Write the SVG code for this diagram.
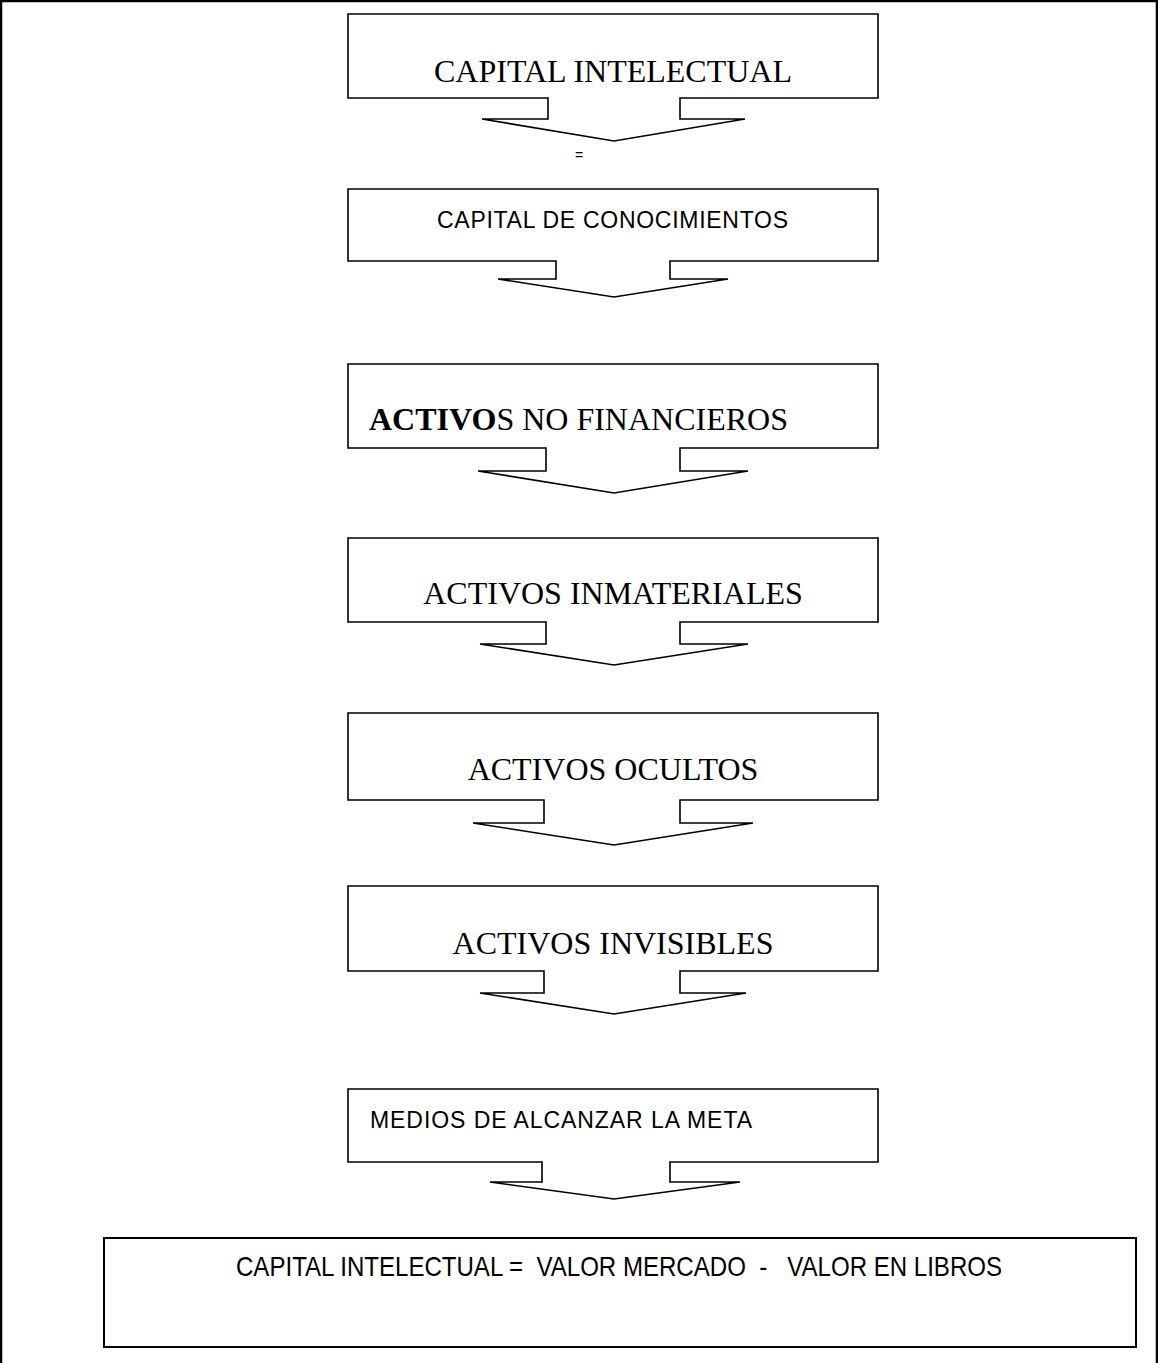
<svg xmlns="http://www.w3.org/2000/svg" width="1158" height="1363" viewBox="0 0 1158 1363">
  <style>
    .callout { fill: #ffffff; stroke: #000000; stroke-width: 1.6; stroke-linejoin: miter; }
    .box { fill: #ffffff; stroke: #000000; stroke-width: 2; }
    .serif { font-family: "Liberation Serif", "Times New Roman", serif; font-size: 32px; fill: #000000; }
    .sans { font-family: "Liberation Sans", Arial, sans-serif; font-size: 23px; fill: #000000; }
    .formula { font-family: "Liberation Sans", Arial, sans-serif; font-size: 28px; fill: #000000; }
    .small { font-family: "Liberation Sans", Arial, sans-serif; font-size: 14px; fill: #000000; }
  </style>

  <rect width="1158" height="1363" fill="#ffffff"/>

  <!-- page frame: top, left and right rules -->
  <path d="M1,1363 V1 H1157 V1363" fill="none" stroke="#000000" stroke-width="2.5"/>

  <!-- each node is a down-arrow callout: box with a tab and arrowhead below -->
  <g id="node-capital-intelectual">
    <path class="callout" d="M348,14 H878 V98 H680 V119 H745 L614,141 L482,119 H548 V98 H348 Z"/>
    <text class="serif" x="613" y="82" text-anchor="middle">CAPITAL INTELECTUAL</text>
  </g>

  <g id="node-capital-conocimientos">
    <path class="callout" d="M348,189 H878 V261 H670 V279 H728 L614,297 L498,279 H556 V261 H348 Z"/>
    <text class="sans" x="437" y="228" textLength="351" lengthAdjust="spacing">CAPITAL DE CONOCIMIENTOS</text>
  </g>

  <g id="node-activos-no-financieros">
    <path class="callout" d="M348,364 H878 V448 H680 V471 H748 L614,493 L478,471 H546 V448 H348 Z"/>
    <text class="serif" x="369" y="430"><tspan font-weight="bold">ACTIVO</tspan>S NO FINANCIEROS</text>
  </g>

  <g id="node-activos-inmateriales">
    <path class="callout" d="M348,538 H878 V622 H680 V644 H748 L614,665 L480,644 H546 V622 H348 Z"/>
    <text class="serif" x="613" y="604" text-anchor="middle">ACTIVOS INMATERIALES</text>
  </g>

  <g id="node-activos-ocultos">
    <path class="callout" d="M348,713 H878 V800 H680 V823 H753 L614,845 L473,823 H544 V800 H348 Z"/>
    <text class="serif" x="613" y="780" text-anchor="middle">ACTIVOS OCULTOS</text>
  </g>

  <g id="node-activos-invisibles">
    <path class="callout" d="M348,886 H878 V971 H680 V993 H746 L614,1014 L480,993 H544 V971 H348 Z"/>
    <text class="serif" x="613" y="954" text-anchor="middle">ACTIVOS INVISIBLES</text>
  </g>

  <g id="node-medios">
    <path class="callout" d="M348,1089 H878 V1162 H670 V1182 H740 L614,1199 L490,1182 H542 V1162 H348 Z"/>
    <text class="sans" x="370" y="1128" textLength="382" lengthAdjust="spacing">MEDIOS DE ALCANZAR LA META</text>
  </g>

  <g id="node-formula">
    <rect class="box" x="104" y="1238" width="1032" height="109"/>
    <text class="formula" x="236" y="1276" textLength="766" lengthAdjust="spacingAndGlyphs" xml:space="preserve">CAPITAL INTELECTUAL =  VALOR MERCADO  -   VALOR EN LIBROS</text>
  </g>

  <!-- connector annotation -->
  <g id="connectors">
    <text class="small" x="579" y="160" text-anchor="middle">=</text>
  </g>
</svg>
